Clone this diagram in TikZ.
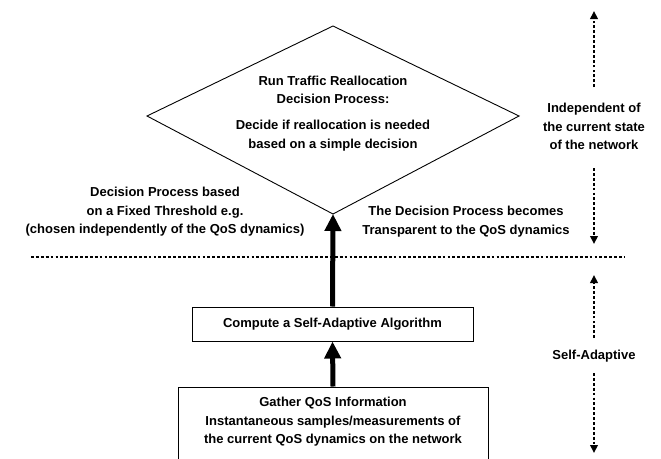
\documentclass[tikz,border=0pt]{standalone}
\usepackage{fontspec}
\setmainfont{Liberation Sans}
\usetikzlibrary{arrows.meta}
\begin{document}
\begin{tikzpicture}[x=1pt,y=-1pt,
  lbl/.style={font=\bfseries\fontsize{13}{18.5}\selectfont, align=center, inner sep=0pt},
  boxed/.style={draw, line width=1pt, inner sep=0pt},
  thin/.style={line width=0.9pt},
  dotline/.style={line width=2.9pt, dash pattern=on 2.8pt off 2.1pt},
  dotarrow/.style={dotline, -{Triangle[width=7.5pt,length=8pt]}},
  bigarrow/.style={line width=5pt, -{Triangle[width=16pt,length=17pt]}}]
\useasboundingbox (0,0) rectangle (661,458);
% diamond
\coordinate (dt) at (333,26);
\coordinate (dr) at (519,116);
\coordinate (db) at (333,214);
\coordinate (dl) at (147,116);
\draw[thin] (dt) -- (dr) -- (db) -- (dl) -- cycle;
\node[lbl] (d1) at (333,90) {Run Traffic Reallocation\\Decision Process:};
\node[lbl] (d2) at (333,135.5) {Decide if reallocation is needed\\based on a simple decision};
% side labels
\node[lbl] (left) at (165,212) {Decision Process based\\on a Fixed Threshold e.g.\\(chosen independently of the QoS dynamics)};
\node[lbl] (right) at (466,221.5) {The Decision Process becomes\\Transparent to the QoS dynamics};
% boxes
\node[boxed, minimum width=281pt, minimum height=34pt] (compute) at (332.5,324) {};
\node[lbl] (ctext) at (332.5,324) {Compute a Self-Adaptive Algorithm};
\node[boxed, minimum width=310pt, minimum height=82pt] (gather) at (333,428) {};
\node[lbl] (gtext) at (333,422) {Gather QoS Information\\Instantaneous samples/measurements of\\the current QoS dynamics on the network};
% thick arrows
\draw[bigarrow] (gather.north) -- (compute.south);
\draw[bigarrow] (compute.north) -- (db);
% horizontal dotted separator
\coordinate (hl) at (31,257);
\coordinate (hr) at (624,257);
\draw[dotline] (hl) -- (hr);
% right side
\node[lbl] (indep) at (594,126.5) {Independent of\\the current state\\of the network};
\node[lbl] (self) at (594,356) {Self-Adaptive};
\coordinate (a1s) at (594,87);
\coordinate (a1e) at (594,11);
\coordinate (a2s) at (594,168);
\coordinate (a2e) at (594,244);
\coordinate (a3s) at (594,338);
\coordinate (a3e) at (594,275);
\coordinate (a4s) at (594,373);
\coordinate (a4e) at (594,453);
\draw[dotarrow] (a1s) -- (a1e);
\draw[dotarrow] (a2s) -- (a2e);
\draw[dotarrow] (a3s) -- (a3e);
\draw[dotarrow] (a4s) -- (a4e);
\end{tikzpicture}
\end{document}
